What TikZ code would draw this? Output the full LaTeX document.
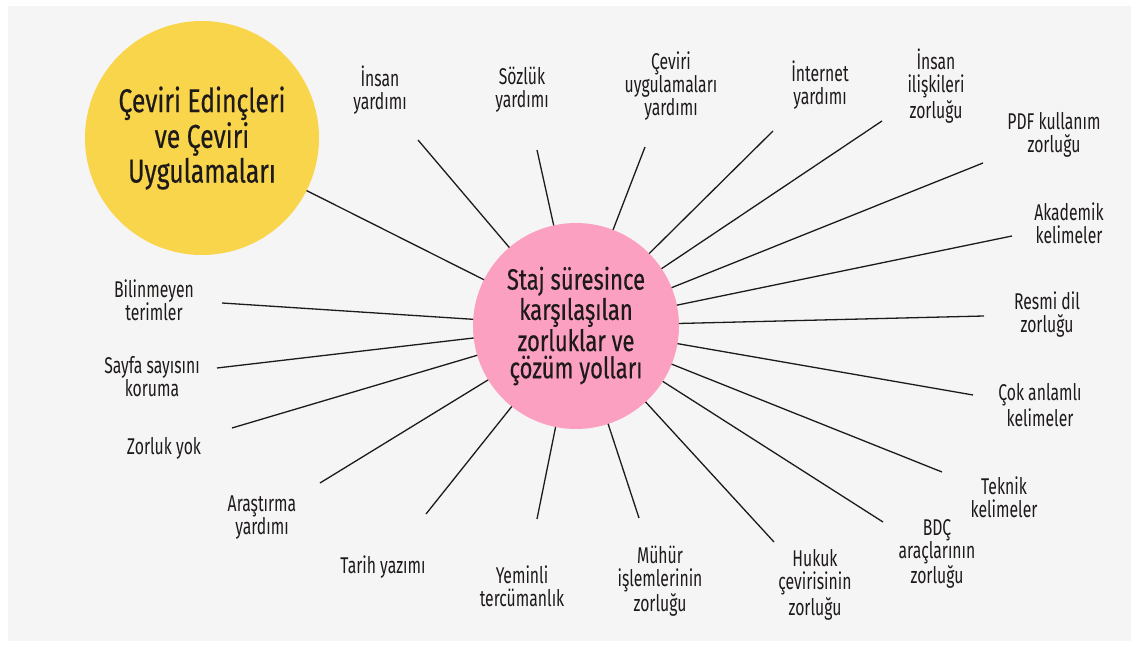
\documentclass[tikz,border=0pt]{standalone}
\usepackage{fontspec}
\setmainfont{Fira Sans}[FakeStretch=0.69]
\newfontfamily\hubfont{Fira Sans}[FakeStretch=0.75,FakeBold=0.4]
\usetikzlibrary{positioning}
\definecolor{bggray}{HTML}{F5F5F5}
\definecolor{sunyellow}{HTML}{F9D54C}
\definecolor{rosepink}{HTML}{FCA0C2}
\definecolor{inkdark}{HTML}{1E1A1A}

\begin{document}
\begin{tikzpicture}
  [x=0.5pt,y=-0.5pt,
   hub/.style={circle,fill=rosepink,inner sep=0pt,outer sep=0pt,minimum size=103pt,align=center,text=inkdark,font=\hubfont\fontsize{14.7}{13.6}\selectfont},
   topic/.style={circle,fill=sunyellow,inner sep=0pt,outer sep=0pt,minimum size=117pt,align=center,text=inkdark,font=\hubfont\fontsize{16.5}{16.2}\selectfont},
   item/.style={align=center,inner sep=0pt,text=inkdark,font=\fontsize{11.4}{11.5}\selectfont},
   spoke/.style={draw=inkdark,line width=0.65pt}]
  \useasboundingbox (0,0) rectangle (1137,646);
  \fill[white] (0,0) rectangle (1137,646);
  \fill[bggray] (8,6) rectangle (1131,641);

  \node[topic] (y) at (202,138) {Çeviri Edinçleri\\ve Çeviri\\Uygulamaları};
  \node[hub] (c) at (576,326) {Staj süresince\\karşılaşılan\\zorluklar ve\\çözüm yolları};

  % labels, clockwise from the top
  \node[item] (l1) at (380,90) {İnsan\\yardımı};
  \node[item] (l2) at (522,90) {Sözlük\\yardımı};
  \node[item] (l3) at (671,86) {Çeviri\\uygulamaları\\yardımı};
  \node[item] (l4) at (820,85) {İnternet\\yardımı};
  \node[item] (l5) at (936,86) {İnsan\\ilişkileri\\zorluğu};
  \node[item] (l6) at (1054,135) {PDF kullanım\\zorluğu};
  \node[item] (l7) at (1069,223) {Akademik\\kelimeler};
  \node[item] (l8) at (1047,315) {Resmi dil\\zorluğu};
  \node[item] (l9) at (1040,405) {Çok anlamlı\\kelimeler};
  \node[item] (l10) at (1004,497) {Teknik\\kelimeler};
  \node[item] (l11) at (937,554) {BDÇ\\araçlarının\\zorluğu};
  \node[item] (l12) at (815,585) {Hukuk\\çevirisinin\\zorluğu};
  \node[item] (l13) at (660,581) {Mühür\\işlemlerinin\\zorluğu};
  \node[item] (l14) at (522,586) {Yeminli\\tercümanlık};
  \node[item] (l15) at (383,567) {Tarih yazımı};
  \node[item] (l16) at (262,518) {Araştırma\\yardımı};
  \node[item] (l17) at (164,448) {Zorluk yok};
  \node[item] (l18) at (152,377) {Sayfa sayısını\\koruma};
  \node[item] (l19) at (154,300) {Bilinmeyen\\terimler};

  % free ends of the spokes
  \coordinate (e1) at (418,140);
  \coordinate (e2) at (537,150);
  \coordinate (e3) at (645,147);
  \coordinate (e4) at (773,131);
  \coordinate (e5) at (882,121);
  \coordinate (e6) at (983,163);
  \coordinate (e7) at (1012,236);
  \coordinate (e8) at (984,316);
  \coordinate (e9) at (973,395);
  \coordinate (e10) at (942,472);
  \coordinate (e11) at (883,522);
  \coordinate (e12) at (774,542);
  \coordinate (e13) at (639,518);
  \coordinate (e14) at (537,519);
  \coordinate (e15) at (426,514);
  \coordinate (e16) at (320,483);
  \coordinate (e17) at (232,428);
  \coordinate (e18) at (217,368);
  \coordinate (e19) at (222,303);

  \draw[spoke] (y) -- (c);
  \foreach \i in {1,...,19}
    \draw[spoke] (e\i) -- (c);
\end{tikzpicture}
\end{document}
